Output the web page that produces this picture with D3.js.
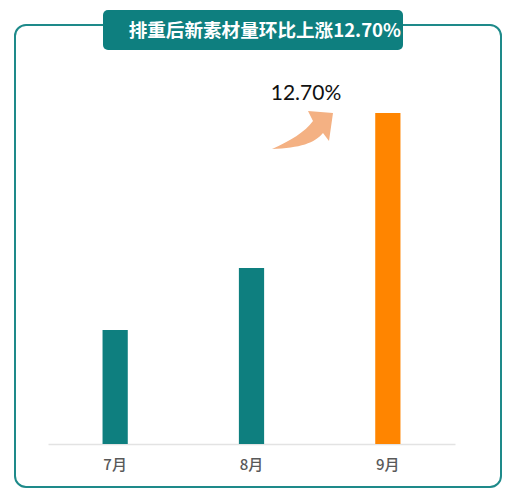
<!DOCTYPE html>
<html>
<head>
<meta charset="utf-8">
<script src="https://cdn.jsdelivr.net/npm/d3@7"></script>
<style>
  body { margin: 0; background: #fff; }
</style>
</head>
<body>
<div class="chart"></div>
<script>
const months = ['7月', '8月', '9月'];
const values = [114, 176, 331];
const barColors = ['#0E7F7F', '#0E7F7F', '#FF8500'];
const titleText = '排重后新素材量环比上涨12.70%';
const growthLabel = '12.70%';

function renderBarChart() {
    const width = 519;
    const height = 500;
    const margin = ({top: 113, right: 64, bottom: 56, left: 48});

    const svg = d3.select('.chart').append('svg')
        .attr('width', width)
        .attr('height', height);

    // outer frame
    svg.append('rect')
        .attr('x', 15).attr('y', 25)
        .attr('width', 486).attr('height', 462)
        .attr('rx', 11)
        .attr('fill', 'none')
        .attr('stroke', '#1E8A8A')
        .attr('stroke-width', 2);

    // title box
    svg.append('rect')
        .attr('x', 103).attr('y', 10)
        .attr('width', 300).attr('height', 40)
        .attr('rx', 5)
        .attr('fill', '#0E7F7F');

    svg.append('text')
        .attr('x', 401).attr('y', 37)
        .attr('text-anchor', 'end')
        .attr('fill', '#fff')
        .attr('font-family', '"Noto Sans CJK SC", sans-serif')
        .attr('font-weight', 'bold')
        .attr('font-size', 18.6)
        .text(titleText);

    const xScale = d3.scaleBand()
        .domain(months)
        .range([margin.left, width - margin.right])
        .paddingInner(0.815)
        .paddingOuter(0.4);

    const yScale = d3.scaleLinear()
        .domain([0, d3.max(values)])
        .range([height - margin.bottom, margin.top]);

    const xAxis = d3.axisBottom(xScale).tickSize(0).tickPadding(15);

    const axisG = svg.append('g')
        .attr('class', 'axis x-axis')
        .attr('transform', `translate(0, ${height - margin.bottom})`)
        .call(xAxis);
    axisG.select('.domain')
        .attr('stroke', '#E3E3E3')
        .attr('stroke-width', 1.5);
    axisG.selectAll('text')
        .style('fill', '#595959')
        .style('font-family', '"Noto Sans CJK SC", sans-serif')
        .style('font-weight', 500)
        .style('font-size', '15px');

    svg.append('g').selectAll('rect')
        .data(values)
        .enter()
        .append('rect')
        .attr('x', (d, i) => xScale(months[i]))
        .attr('y', d => yScale(d))
        .attr('width', xScale.bandwidth())
        .attr('height', d => yScale(0) - yScale(d))
        .attr('fill', (d, i) => barColors[i]);

    // growth arrow
    svg.append('path')
        .attr('d', 'M272,149 C290,141 305,132 313,121 L308,111 L333,113 L329,141 L323,133 C315,143 300,148 272,149 Z')
        .attr('fill', '#F4B183');

    svg.append('text')
        .attr('x', 306).attr('y', 100)
        .attr('text-anchor', 'middle')
        .attr('fill', '#111')
        .attr('font-family', 'Lato, "Open Sans", sans-serif')
        .attr('font-size', 21)
        .text(growthLabel);
}

renderBarChart();
</script>
</body>
</html>
